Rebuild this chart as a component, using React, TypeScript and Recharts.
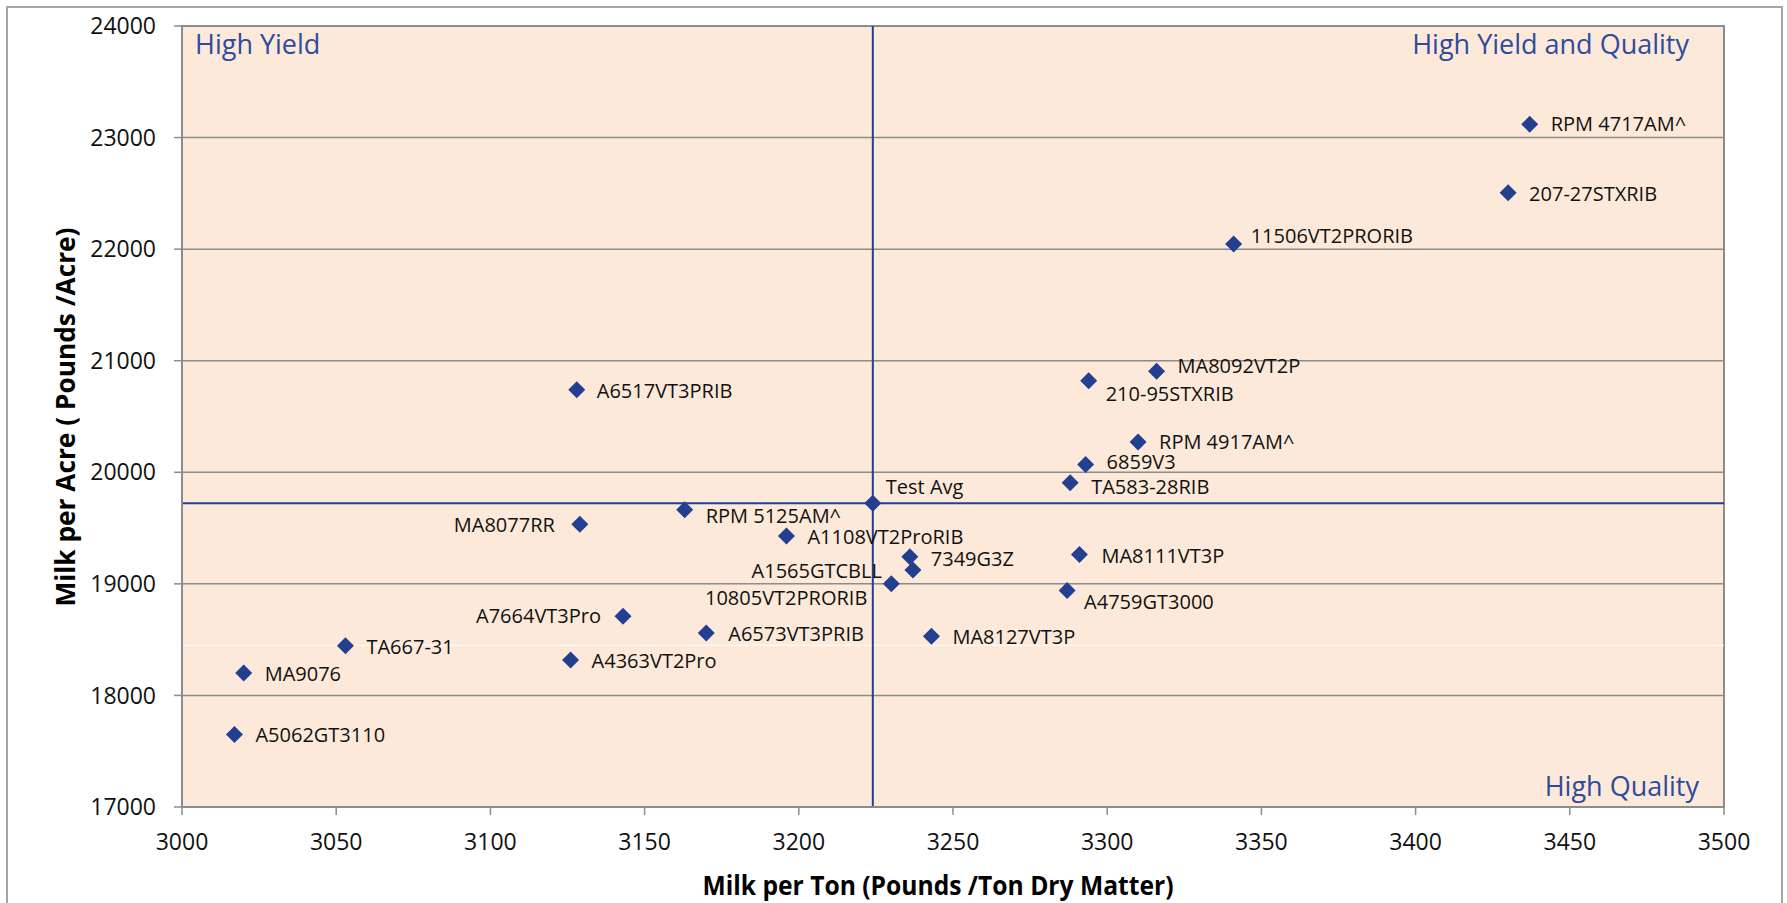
import {
  ScatterChart,
  Scatter,
  XAxis,
  YAxis,
  CartesianGrid,
  ReferenceLine,
  ReferenceArea,
  Label,
} from "recharts";

// hybrid names
const hybrids = [
  "RPM 4717AM^",
  "207-27STXRIB",
  "11506VT2PRORIB",
  "MA8092VT2P",
  "210-95STXRIB",
  "A6517VT3PRIB",
  "RPM 4917AM^",
  "6859V3",
  "TA583-28RIB",
  "Test Avg",
  "RPM 5125AM^",
  "MA8077RR",
  "A1108VT2ProRIB",
  "7349G3Z",
  "MA8111VT3P",
  "A1565GTCBLL",
  "10805VT2PRORIB",
  "A4759GT3000",
  "A7664VT3Pro",
  "A6573VT3PRIB",
  "MA8127VT3P",
  "TA667-31",
  "A4363VT2Pro",
  "MA9076",
  "A5062GT3110",
];

// Milk per Ton (lbs / ton DM)
const milkPerTon = [
  3437, 3430, 3341, 3316, 3294, 3128, 3310, 3293, 3288, 3224, 3163, 3129,
  3196, 3236, 3291, 3237, 3230, 3287, 3143, 3170, 3243, 3053, 3126, 3020,
  3017,
];

// Milk per Acre (lbs / acre)
const milkPerAcre = [
  23120, 22505, 22045, 20905, 20820, 20740, 20272, 20070, 19907, 19722, 19665,
  19535, 19428, 19242, 19264, 19125, 19002, 18940, 18710, 18560, 18530, 18445,
  18318, 18202, 17650,
];

const testAvgTon = 3224;
const testAvgAcre = 19722;

const xTicks = [3000, 3050, 3100, 3150, 3200, 3250, 3300, 3350, 3400, 3450, 3500];
const yTicks = [17000, 18000, 19000, 20000, 21000, 22000, 23000, 24000];

const data = hybrids.map((name, i) => ({
  name,
  ton: milkPerTon[i],
  acre: milkPerAcre[i],
}));

// label placement relative to the marker: [dx, dy, anchor]
const labelPlace: Record<string, [number, number, "start" | "end"]> = {
  "RPM 4717AM^": [21, 0, "start"],
  "207-27STXRIB": [21, 1, "start"],
  "11506VT2PRORIB": [17, -8, "start"],
  "MA8092VT2P": [21, -5, "start"],
  "210-95STXRIB": [17, 13, "start"],
  "A6517VT3PRIB": [20, 1, "start"],
  "RPM 4917AM^": [21, 0, "start"],
  "6859V3": [21, -2, "start"],
  "TA583-28RIB": [21, 4, "start"],
  "Test Avg": [13, -16, "start"],
  "RPM 5125AM^": [21, 6, "start"],
  "MA8077RR": [-25, 1, "end"],
  "A1108VT2ProRIB": [21, 1, "start"],
  "7349G3Z": [21, 2, "start"],
  "MA8111VT3P": [22, 2, "start"],
  "A1565GTCBLL": [-31, 1, "end"],
  "10805VT2PRORIB": [-24, 14, "end"],
  "A4759GT3000": [17, 11, "start"],
  "A7664VT3Pro": [-22, 0, "end"],
  "A6573VT3PRIB": [22, 1, "start"],
  "MA8127VT3P": [21, 1, "start"],
  "TA667-31": [21, 1, "start"],
  "A4363VT2Pro": [21, 1, "start"],
  "MA9076": [21, 1, "start"],
  "A5062GT3110": [21, 1, "start"],
};

const FONT = "'Open Sans', sans-serif";
const NAVY = "#233F8F";
const GRAY = "#8C8C8C";

function Diamond(props: any) {
  const { cx, cy, payload } = props;
  if (cx == null || cy == null) return null;
  const r = 8.5;
  const [dx, dy, anchor] = labelPlace[payload.name] ?? [21, 0, "start"];
  return (
    <g>
      <polygon
        points={`${cx},${cy - r} ${cx + r},${cy} ${cx},${cy + r} ${cx - r},${cy}`}
        fill={NAVY}
      />
      <text
        x={cx + dx}
        y={cy + dy + 7}
        textAnchor={anchor}
        fontFamily={FONT}
        fontSize={20}
        fill="#111"
      >
        {payload.name}
      </text>
    </g>
  );
}

function quadrantText(
  text: string,
  where: "tl" | "tr" | "br"
) {
  return (props: any) => {
    const vb = props.viewBox;
    if (!vb) return null;
    let x = vb.x + 13;
    let y = vb.y + 28;
    let anchor = "start";
    if (where === "tr") {
      x = vb.x + vb.width - 35;
      anchor = "end";
    }
    if (where === "br") {
      x = vb.x + vb.width - 25;
      y = vb.y + vb.height - 11;
      anchor = "end";
    }
    return (
      <text x={x} y={y} textAnchor={anchor} fontFamily={FONT} fontSize={27} fill="#2E4C9C">
        {text}
      </text>
    );
  };
}

const xTitle = () => (
  <text
    x={938}
    y={895}
    textAnchor="middle"
    fontFamily={FONT}
    fontWeight="bold"
    fontSize={26}
    fill="#000"
    textLength={471}
    lengthAdjust="spacingAndGlyphs"
  >
    Milk per Ton (Pounds /Ton Dry Matter)
  </text>
);

const yTitle = () => (
  <text
    transform="translate(75, 417) rotate(-90)"
    x={0}
    y={0}
    textAnchor="middle"
    fontFamily={FONT}
    fontWeight="bold"
    fontSize={26}
    fill="#000"
    textLength={379}
    lengthAdjust="spacingAndGlyphs"
  >
    Milk per Acre ( Pounds /Acre)
  </text>
);

export default function App() {
  const tick = { fontSize: 23, fill: "#111", fontFamily: FONT };
  return (
    <div
      style={{
        position: "absolute",
        left: 0,
        top: 0,
        width: 1787,
        height: 903,
        overflow: "hidden",
        background: "#fff",
      }}
    >
      <div
        style={{
          position: "absolute",
          left: 6,
          top: 6,
          width: 1773,
          height: 940,
          border: "2px solid #A6A6A6",
        }}
      />
      <div style={{ position: "absolute", left: 0, top: 0 }}>
        <ScatterChart
          width={1787}
          height={903}
          margin={{ top: 26, right: 63, bottom: 0, left: 0 }}
        >
          <CartesianGrid
            vertical={false}
            stroke={GRAY}
            strokeWidth={1.5}
            fill="#FDE9D9"
            fillOpacity={1}
          />
          <XAxis
            type="number"
            dataKey="ton"
            domain={[3000, 3500]}
            ticks={xTicks}
            interval={0}
            height={96}
            tick={tick}
            tickSize={8}
            tickMargin={19}
            axisLine={{ stroke: GRAY, strokeWidth: 2 }}
            tickLine={{ stroke: GRAY, strokeWidth: 1.5 }}
            allowDataOverflow
          >
            <Label content={xTitle} />
          </XAxis>
          <YAxis
            type="number"
            dataKey="acre"
            domain={[17000, 24000]}
            ticks={yTicks}
            interval={0}
            width={182}
            tick={tick}
            tickSize={8}
            tickMargin={18}
            axisLine={{ stroke: GRAY, strokeWidth: 2 }}
            tickLine={{ stroke: GRAY, strokeWidth: 1.5 }}
            allowDataOverflow
          >
            <Label content={yTitle} />
          </YAxis>
          <ReferenceArea
            x1={3000}
            x2={3500}
            y1={17000}
            y2={24000}
            fill="none"
            fillOpacity={0}
            stroke={GRAY}
            strokeWidth={2}
          >
            <Label content={quadrantText("High Yield", "tl")} />
            <Label content={quadrantText("High Yield and Quality", "tr")} />
            <Label content={quadrantText("High Quality", "br")} />
          </ReferenceArea>
          <ReferenceLine y={18450} stroke="#FFFFFF" strokeWidth={1} />
          <ReferenceLine x={testAvgTon} stroke="#203F97" strokeWidth={2} />
          <ReferenceLine y={testAvgAcre} stroke="#203F97" strokeWidth={2} />
          <Scatter
            data={data}
            dataKey="acre"
            shape={Diamond}
            isAnimationActive={false}
          />
        </ScatterChart>
      </div>
    </div>
  );
}
